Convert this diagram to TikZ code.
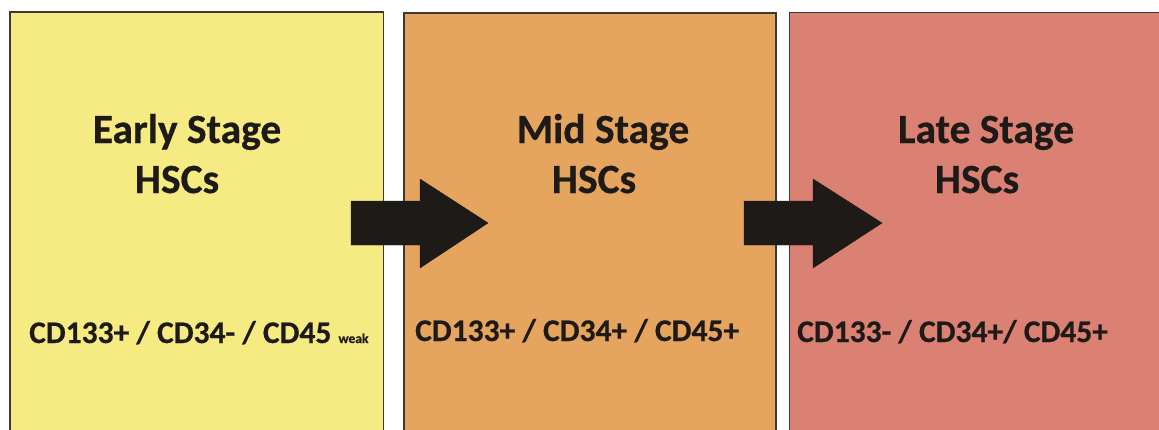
\documentclass[tikz,border=0pt]{standalone}
\usepackage{fontspec}
\setmainfont{Carlito}[BoldFeatures={FakeBold=0.6}]
\definecolor{boxyellow}{HTML}{F6EB83}
\definecolor{boxorange}{HTML}{E6A55E}
\definecolor{boxsalmon}{HTML}{DA8173}
\definecolor{edgegray}{HTML}{3E3832}
\definecolor{inkdark}{HTML}{1E1A17}
\begin{document}
\begin{tikzpicture}[x=1pt,y=-1pt,
  stagebox/.style={draw=edgegray,line width=1.4pt,rectangle,anchor=north west,inner sep=0pt,outer sep=0pt},
  title/.style={font=\bfseries\fontsize{41.5}{48}\selectfont,text=inkdark,anchor=base,inner sep=0pt},
  marker/.style={font=\bfseries\fontsize{31.5}{38}\selectfont,text=inkdark,anchor=base west,inner sep=0pt},
  blockarrow/.style={fill=inkdark,draw=inkdark,line width=0.4pt,line join=miter}]
\useasboundingbox (0,0) rectangle (1159,429);
\clip (0,0) rectangle (1159,429);
\fill[white] (0,0) rectangle (1159,429);
% boxes
\node[stagebox,fill=boxyellow,minimum width=373.5pt,minimum height=440pt] (early) at (10,12) {};
\node[stagebox,fill=boxorange,minimum width=372pt,minimum height=440pt] (mid) at (404,13) {};
\node[stagebox,fill=boxsalmon,minimum width=400pt,minimum height=440pt] (late) at (789.5,12.5) {};
% titles
\node[title] (t1a) at (187,143) {Early Stage};
\node[title] (t1b) at (177,193) {HSCs};
\node[title] (t2a) at (603,143) {Mid Stage};
\node[title] (t2b) at (594,193) {HSCs};
\node[title] (t3a) at (986,143) {Late Stage};
\node[title] (t3b) at (977,193) {HSCs};
% markers
\node[marker] (m1) at (29,343) {CD133+ / CD34- / CD45 {\fontsize{13.5}{16}\selectfont weak}};
\node[marker] (m2) at (415,341) {CD133+ / CD34+ / CD45+};
\node[marker] (m3) at (797,342) {CD133- / CD34+/ CD45+};
% arrows
\draw[blockarrow] (351,201) -- (420,201) -- (420,179) -- (488,223) -- (420,268) -- (420,245) -- (351,245) -- cycle;
\draw[blockarrow] (744,201) -- (813,201) -- (813,179) -- (882,223) -- (813,268) -- (813,245) -- (744,245) -- cycle;
\end{tikzpicture}
\end{document}
